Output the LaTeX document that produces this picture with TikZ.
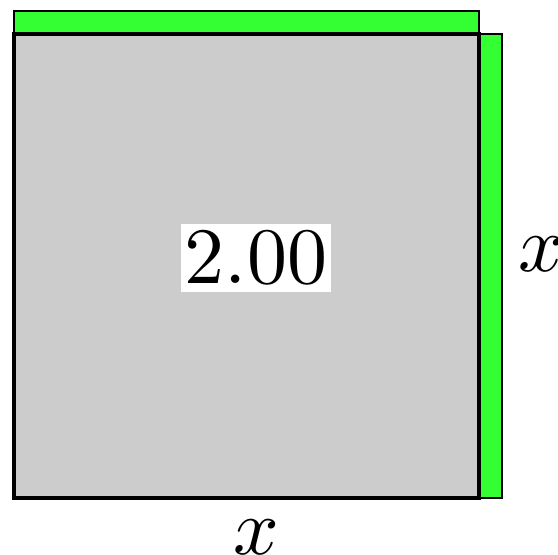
\documentclass[tikz,border=0pt]{standalone}
\usepackage{tikz}
\definecolor{stripcolor}{RGB}{51,255,51}
\definecolor{areacolor}{RGB}{204,204,204}

\begin{document}
\begin{tikzpicture}[x=1pt, y=-1pt,
    strip/.style={fill=stripcolor, draw=black, line width=2pt},
    area/.style={fill=areacolor, draw=black, line width=4.5pt},
    lab/.style={scale=8, inner sep=0pt},
]
    \useasboundingbox (0,0) rectangle (558,555);
    % Strips
    \draw[strip] (14,11) rectangle (479,34);
    \draw[strip] (479,34) rectangle (502,498);
    % Square
    \draw[area] (14,34) rectangle (479,498);
    % Labels
    \node[lab, fill=white, inner xsep=0.5pt, inner ysep=0.75pt] (area) at (256,258) {2.00};
    \node[lab] (side) at (541,254) {$x$};
    \node[lab] (base) at (256,537) {$x$};
\end{tikzpicture}
\end{document}
